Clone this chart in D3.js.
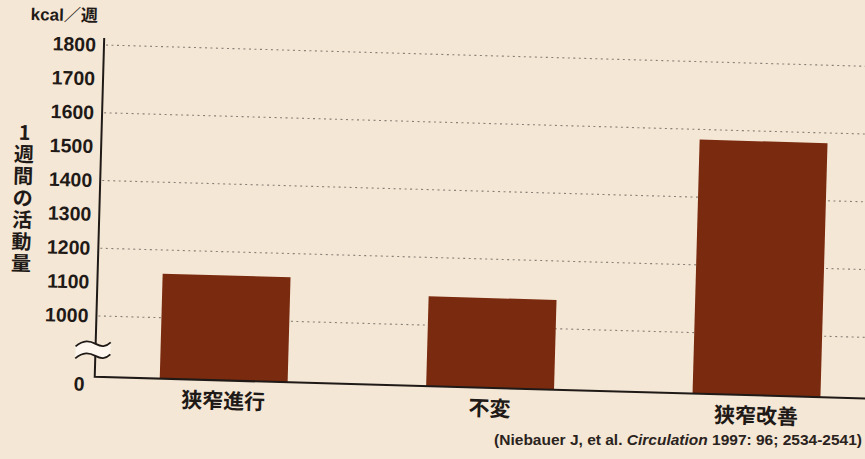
<!DOCTYPE html>
<html>
<head>
<meta charset="utf-8">
<script src="https://cdn.jsdelivr.net/npm/d3@7"></script>
<style>
  html, body { margin: 0; padding: 0; background: #f5e7d5; }
  svg { display: block; }
</style>
</head>
<body>
<script>
// Weekly leisure-time activity by angiographic outcome
const categories = ["狭窄進行", "不変", "狭窄改善"];
const activity = [1130, 1085, 1570];
const tickValues = [0, 1000, 1100, 1200, 1300, 1400, 1500, 1600, 1700, 1800];
const gridValues = [1000, 1200, 1400, 1600, 1800];
const unitLabel = "kcal／週";
const axisTitle = "1週間の活動量";
const source = ["(Niebauer J, et al. ", "Circulation", " 1997: 96; 2534-2541)"];

const W = 865, H = 459;
const latin = "'Liberation Sans', Arial, 'Noto Sans CJK JP', sans-serif";
const cjk = "'Noto Sans CJK JP', 'Liberation Sans', sans-serif";
const ink = "#1f1a17";

const svg = d3.select("body").append("svg").attr("width", W).attr("height", H);
svg.append("rect").attr("width", W).attr("height", H).attr("fill", "#f5e7d5");

const axisX = 104;
// the printed figure sits slightly skewed on the page
const g = svg.append("g").attr("transform", `rotate(1.6, ${axisX}, 45)`);

// broken value axis: 0 at the baseline, then 1000–1800
const y = d3.scaleLinear().domain([0, 1000, 1800]).range([377, 316, 45]);
const x = d3.scaleBand().domain(categories).range([axisX, 895])
  .paddingInner(0.52).paddingOuter(0.244);
const xEnd = 885;

// dotted gridlines
g.selectAll("line.grid").data(gridValues).join("line")
  .attr("class", "grid")
  .attr("x1", axisX + 2).attr("x2", xEnd)
  .attr("y1", d => y(d)).attr("y2", d => y(d))
  .attr("stroke", "#6d6660").attr("stroke-width", 1.1)
  .attr("stroke-dasharray", "2,3.5").attr("opacity", 0.8);

// bars
g.selectAll("rect.bar").data(categories).join("rect")
  .attr("class", "bar")
  .attr("x", d => x(d))
  .attr("width", x.bandwidth())
  .attr("y", (d, i) => y(activity[i]))
  .attr("height", (d, i) => y(0) - y(activity[i]))
  .attr("fill", "#7a2a0e");

// axis lines with a break between 0 and 1000
const breakTop = y(0) - 33, breakBot = y(0) - 21;
g.append("path")
  .attr("d", `M${axisX},${y(1800) - 7}V${breakTop}M${axisX},${breakBot}V${y(0)}H${xEnd}`)
  .attr("fill", "none").attr("stroke", ink).attr("stroke-width", 2);

const wave = y0 => `M${axisX - 20},${y0 + 3} C${axisX - 12},${y0 - 4} ${axisX - 6},${y0 - 3} ${axisX},${y0} S${axisX + 10},${y0 + 3} ${axisX + 15},${y0 - 2}`;
g.append("path")
  .attr("d", wave(breakTop) + ` L${axisX + 15},${breakBot - 2} ` +
    `C${axisX + 10},${breakBot + 3} ${axisX + 6},${breakBot + 3} ${axisX},${breakBot} S${axisX - 12},${breakBot - 4} ${axisX - 20},${breakBot + 3} Z`)
  .attr("fill", "#fcf6ee").attr("stroke", "none");
[breakTop, breakBot].forEach(v => {
  g.append("path").attr("d", wave(v)).attr("fill", "none")
    .attr("stroke", ink).attr("stroke-width", 1.8);
});

// tick labels
const yAxis = g.append("g").attr("transform", `translate(${axisX},0)`)
  .call(d3.axisLeft(y).tickValues(tickValues).tickFormat(d3.format("d"))
    .tickSize(0).tickPadding(8));
yAxis.select(".domain").remove();
yAxis.selectAll("text")
  .attr("font-family", latin).attr("font-weight", "bold")
  .attr("font-size", 19.5).attr("fill", ink);
yAxis.selectAll(".tick").filter(d => d === 0).select("text")
  .attr("x", -10).attr("dy", "0.7em");

// unit label
g.append("text").attr("x", axisX - 7).attr("y", y(1800) - 23)
  .attr("text-anchor", "end").attr("font-family", latin)
  .attr("font-weight", "bold").attr("font-size", 17).attr("fill", ink)
  .text(unitLabel);

// vertical axis title, one glyph per row
g.append("text").attr("font-family", cjk).attr("font-weight", "bold")
  .attr("font-size", 20).attr("fill", ink).attr("text-anchor", "middle")
  .selectAll("tspan").data(axisTitle.split("")).join("tspan")
  .attr("x", 27).attr("y", (d, i) => 142 + i * 21.8)
  .text(d => d);

// category labels
g.selectAll("text.cat").data(categories).join("text")
  .attr("class", "cat")
  .attr("x", d => x(d) + x.bandwidth() / 2)
  .attr("y", y(0) + 28)
  .attr("text-anchor", "middle").attr("font-family", cjk)
  .attr("font-weight", "bold").attr("font-size", 21).attr("fill", ink)
  .text(d => d);

// source note
svg.append("text").attr("x", 862).attr("y", 445)
  .attr("text-anchor", "end").attr("font-family", latin)
  .attr("font-weight", "bold").attr("font-size", 15.5).attr("fill", "#2a2320")
  .selectAll("tspan").data(source).join("tspan")
  .attr("font-style", (d, i) => i === 1 ? "italic" : "normal")
  .text(d => d);
</script>
</body>
</html>
